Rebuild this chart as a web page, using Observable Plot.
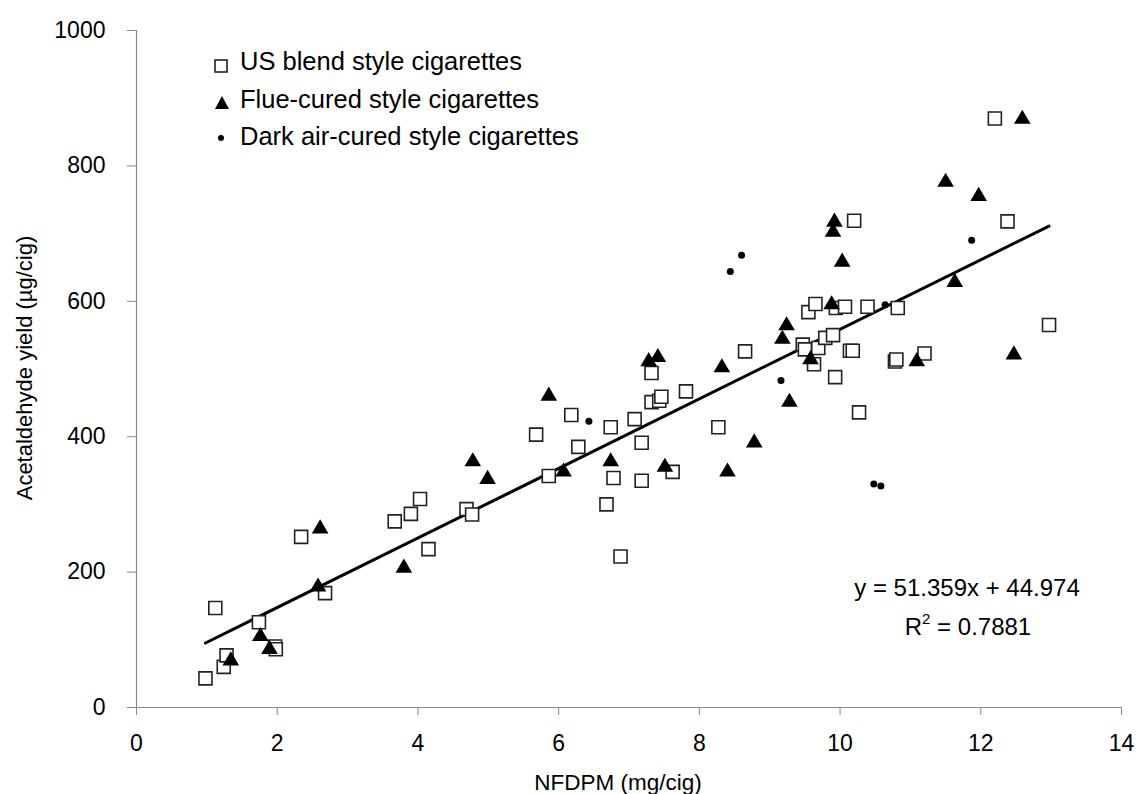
<!DOCTYPE html>
<html>
<head>
<meta charset="utf-8">
<script src="https://cdn.jsdelivr.net/npm/d3@7"></script>
<script src="https://cdn.jsdelivr.net/npm/@observablehq/plot@0.6"></script>
<style>
  html, body { margin: 0; padding: 0; background: #fff; }
  #chart { width: 1136px; height: 794px; }
</style>
</head>
<body>
<div id="chart"></div>
<script>
// ---- Data ----
const usX = [0.98,1.12,1.24,1.28,1.74,1.97,1.98,2.34,2.68,3.67,3.90,4.03,4.15,4.69,4.77,5.68,5.86,6.18,6.28,6.68,6.74,6.78,6.88,7.08,7.18,7.18,7.32,7.32,7.43,7.46,7.62,7.81,8.27,8.65,9.47,9.50,9.55,9.63,9.65,9.69,9.79,9.90,9.93,9.94,10.07,10.14,10.18,10.20,10.27,10.39,10.78,10.80,10.82,11.20,12.20,12.38,12.97];
const usY = [43,147,60,77,126,90,86,252,169,275,286,308,234,293,285,403,342,432,385,300,414,339,223,426,391,335,494,451,453,459,348,467,414,526,536,529,584,507,596,531,546,550,488,590,592,527,527,719,436,592,511,514,590,523,870,718,565];

const fcX = [1.34,1.76,1.89,2.58,2.61,3.80,4.78,4.99,5.86,6.07,6.74,7.28,7.41,7.51,8.32,8.40,8.78,9.18,9.24,9.28,9.58,9.88,9.90,9.92,10.03,11.09,11.50,11.63,11.97,12.47,12.59];
const fcY = [72,108,89,181,267,209,366,340,463,351,366,514,520,358,505,351,394,547,567,454,517,598,705,720,661,514,779,631,758,524,872];

const darkX = [6.43,8.44,8.60,9.16,10.48,10.58,10.64,11.87];
const darkY = [423,644,668,483,330,327,595,690];

const seriesNames = ["US blend style cigarettes", "Flue-cured style cigarettes", "Dark air-cured style cigarettes"];
const slope = 51.359, intercept = 44.974;
const eqText = "y = 51.359x + 44.974";
const r2Text = "0.7881";
const xTicks = [0,2,4,6,8,10,12,14];
const yTicks = [0,200,400,600,800,1000];
const xLabel = "NFDPM (mg/cig)";
const yLabel = "Acetaldehyde yield (\u00b5g/cig)";

// ---- Build tables ----
const us = usX.map((x, i) => ({x, y: usY[i]}));
const fc = fcX.map((x, i) => ({x, y: fcY[i]}));
const dark = darkX.map((x, i) => ({x, y: darkY[i]}));
const allX = [...usX, ...fcX, ...darkX];
const xMin = d3.min(allX), xMax = d3.max(allX);
const fit = [xMin, xMax].map(x => ({x, y: slope * x + intercept}));

// custom symbols (size = r*r*PI)
const squareSym = { draw(ctx, size) { const r = Math.sqrt(size / Math.PI); ctx.moveTo(-r, -r); ctx.lineTo(r, -r); ctx.lineTo(r, r); ctx.lineTo(-r, r); ctx.closePath(); } };
const triSym = { draw(ctx, size) { const r = Math.sqrt(size / Math.PI); ctx.moveTo(0, -r * 0.9); ctx.lineTo(r, r * 0.8); ctx.lineTo(-r, r * 0.8); ctx.closePath(); } };

const FONT = "Liberation Sans, Arial, sans-serif";
const AXIS = "#8a8a8a";

const chart = Plot.plot({
  width: 1136,
  height: 794,
  marginLeft: 136,
  marginRight: 15,
  marginTop: 30,
  marginBottom: 87,
  style: { fontFamily: FONT, fontSize: "23px", color: "#000", background: "#fff" },
  x: { domain: [0, 14] },
  y: { domain: [0, 1000] },
  marks: [
    Plot.axisX({ ticks: xTicks, tickSize: 8, tickPadding: 19, stroke: AXIS, fill: "#000", label: null, tickFormat: d3.format("d") }),
    Plot.axisY({ ticks: yTicks, tickSize: 9, tickPadding: 22, stroke: AXIS, fill: "#000", label: null, tickFormat: d3.format("d") }),
    Plot.ruleX([0], { stroke: AXIS, strokeWidth: 1.2 }),
    Plot.ruleY([0], { stroke: AXIS, strokeWidth: 1.2 }),
    Plot.line(fit, { x: "x", y: "y", stroke: "#000", strokeWidth: 3 }),
    Plot.dot(us, { x: "x", y: "y", symbol: squareSym, r: 6.5, fill: "#fff", stroke: "#222", strokeWidth: 1.6 }),
    Plot.dot(fc, { x: "x", y: "y", symbol: triSym, r: 8.3, fill: "#000", stroke: "none" }),
    Plot.dot(dark, { x: "x", y: "y", r: 3.5, fill: "#000", stroke: "none" })
  ]
});
document.getElementById("chart").appendChild(chart);

// ---- Annotations: legend, equation, axis titles ----
const svg = d3.select(chart);
const g = svg.append("g").attr("font-family", FONT).attr("fill", "#000").attr("text-anchor", "start");

const legendRows = [
  { name: seriesNames[0], kind: "square", y: 61 },
  { name: seriesNames[1], kind: "tri", y: 99 },
  { name: seriesNames[2], kind: "dot", y: 136 }
];
legendRows.forEach(row => {
  if (row.kind === "square") {
    g.append("rect").attr("x", 215).attr("y", row.y - 1).attr("width", 12).attr("height", 12)
      .attr("fill", "#fff").attr("stroke", "#222").attr("stroke-width", 1.6);
  } else if (row.kind === "tri") {
    g.append("path").attr("d", `M222,${row.y - 3}L229,${row.y + 10}L215,${row.y + 10}Z`).attr("fill", "#000");
  } else {
    g.append("circle").attr("cx", 221).attr("cy", row.y + 2).attr("r", 3).attr("fill", "#000");
  }
  g.append("text").attr("x", 240).attr("y", row.y).attr("dy", "0.35em")
    .attr("font-size", 25.5).attr("text-anchor", "start").text(row.name);
});

g.append("text").attr("x", 967).attr("y", 588).attr("dy", "0.35em").attr("text-anchor", "middle")
  .attr("font-size", 24).text(eqText);
const r2 = g.append("text").attr("x", 968).attr("y", 627).attr("dy", "0.35em").attr("text-anchor", "middle")
  .attr("font-size", 24);
r2.append("tspan").text("R");
r2.append("tspan").attr("font-size", 15).attr("dy", "-0.75em").text("2");
r2.append("tspan").attr("dy", "0.47em").text(" = " + r2Text);

g.append("text").attr("x", 618).attr("y", 782).attr("dy", "0.35em").attr("text-anchor", "middle")
  .attr("font-size", 22.5).text(xLabel);
g.append("text").attr("transform", "translate(24,368) rotate(-90)").attr("dy", "0.35em").attr("text-anchor", "middle")
  .attr("font-size", 22).text(yLabel);
</script>
</body>
</html>
